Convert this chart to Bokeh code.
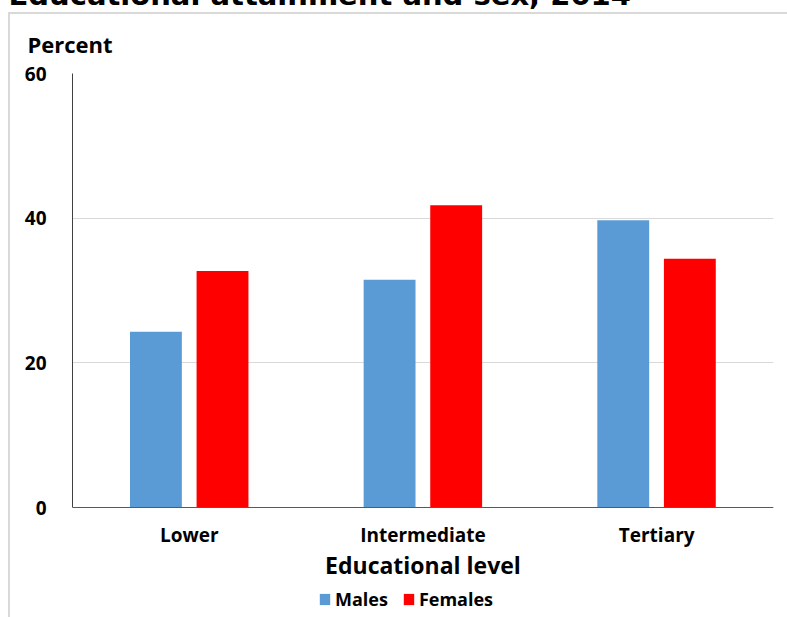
from bokeh.plotting import figure
from bokeh.models import (ColumnDataSource, FactorRange, Legend, LegendItem, Title,
                          FixedTicker)
from bokeh.transform import dodge
from bokeh.embed import file_html
from bokeh.resources import INLINE

# ---- data ----
categories = ["Lower", "Intermediate", "Tertiary"]
males = [24.3, 31.5, 39.7]
females = [32.7, 41.8, 34.4]
y_ticks = [0, 20, 40, 60]
series_names = ["Males", "Females"]
title_text = "Educational attainment and sex, 2014"
y_title = "Percent"
x_title = "Educational level"

FONT = "Open Sans"
TOP = 100      # canvas space above the frame (the top part lies above the page)
SHIFT = 27     # canvas is moved up so that the frame top sits at page y = 73
PLOT_H = 434   # pixels from 0 to 60
EXTRA_H = 110  # room below the zero line for axis texts and legend
Y_MAX = 60
Y_MIN = -Y_MAX * EXTRA_H / PLOT_H

source = ColumnDataSource(dict(cat=categories, males=males, females=females))

p = figure(frame_width=701, frame_height=PLOT_H + EXTRA_H,
           x_range=FactorRange(factors=categories),
           y_range=(Y_MIN, Y_MAX), output_backend="svg", toolbar_location=None,
           min_border_left=72, min_border_right=14, min_border_top=TOP,
           min_border_bottom=0)
p.margin = (-SHIFT, 0, 0, 0)
p.outline_line_color = None
p.background_fill_color = "white"
p.border_fill_color = None
# light grey chart-area border (left and top edges) drawn as host background
p.styles = {
    "background-color": "white",
    "background-image": "linear-gradient(#d9d9d9, #d9d9d9), linear-gradient(#d9d9d9, #d9d9d9)",
    "background-size": "100% 2px, 2px 100%",
    "background-position": f"8px {12 + SHIFT}px, 8px {12 + SHIFT}px",
    "background-repeat": "no-repeat",
}

r1 = p.vbar(x=dodge("cat", -0.143, range=p.x_range), top="males", width=0.222,
            source=source, fill_color="#5b9bd5", line_color=None)
r2 = p.vbar(x=dodge("cat", 0.142, range=p.x_range), top="females", width=0.222,
            source=source, fill_color="#ff0000", line_color=None)

# axes
p.yaxis.ticker = FixedTicker(ticks=y_ticks)
p.yaxis.bounds = (0, Y_MAX)
p.yaxis.major_tick_line_color = None
p.yaxis.minor_tick_line_color = None
p.yaxis.axis_line_color = "#404040"
p.yaxis.major_label_standoff = 20
p.yaxis.major_label_text_font = FONT
p.yaxis.major_label_text_font_style = "bold"
p.yaxis.major_label_text_font_size = "19px"
p.yaxis.major_label_text_color = "black"

p.xaxis.fixed_location = 0
p.xaxis.major_tick_line_color = None
p.xaxis.minor_tick_line_color = None
p.xaxis.axis_line_color = "#595959"
p.xaxis.major_label_standoff = 8
p.xaxis.major_label_text_font = FONT
p.xaxis.major_label_text_font_style = "bold"
p.xaxis.major_label_text_font_size = "19px"
p.xaxis.major_label_text_color = "black"
p.xaxis.axis_label = x_title
p.xaxis.axis_label_text_font = FONT
p.xaxis.axis_label_text_font_style = "bold"
p.xaxis.axis_label_text_font_size = "23px"
p.xaxis.axis_label_text_color = "black"
p.xaxis.axis_label_standoff = -2

p.xgrid.grid_line_color = None
p.ygrid.grid_line_color = "#d9d9d9"
p.ygrid.ticker = FixedTicker(ticks=y_ticks)

# y axis title ("Percent") just above the frame
p.add_layout(Title(text=y_title, align="left", offset=-45, standoff=30,
                   text_font=FONT, text_font_style="bold", text_font_size="22px",
                   text_color="black"), "above")
# main title, mostly above the top of the page as in the reference
p.add_layout(Title(text=title_text, align="left", offset=-64, standoff=0,
                   text_font="DejaVu Sans", text_font_style="bold",
                   text_font_size="29px", text_color="black"), "above")

# legend at the bottom of the (extended) frame, below the axis title
legend = Legend(items=[LegendItem(label=series_names[0], renderers=[r1]),
                       LegendItem(label=series_names[1], renderers=[r2])],
                orientation="horizontal", location=(246, 6),
                border_line_color=None, background_fill_alpha=0,
                padding=0, margin=0, spacing=14, glyph_width=13, glyph_height=14,
                label_standoff=4, label_text_font=FONT, label_text_font_style="bold",
                label_text_font_size="18px", label_text_color="black")
p.add_layout(legend)

open("out.html", "w").write(file_html(p, INLINE))
